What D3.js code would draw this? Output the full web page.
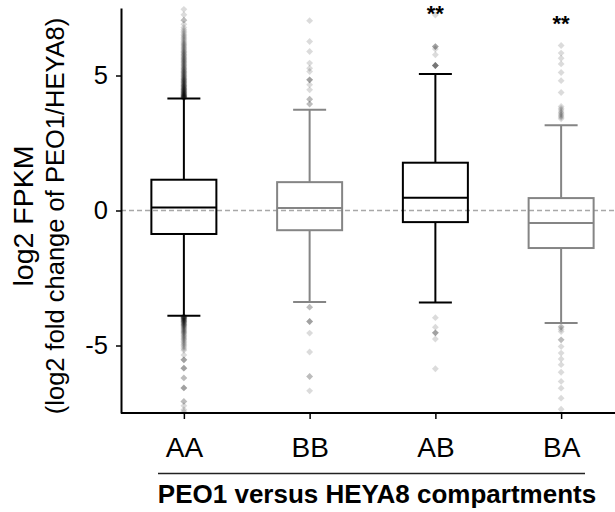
<!DOCTYPE html>
<html>
<head>
<meta charset="utf-8">
<script src="https://cdn.jsdelivr.net/npm/d3@7"></script>
<style>
  html, body { margin: 0; padding: 0; background: #fff; }
  svg { display: block; }
  text { font-family: "Liberation Sans", Arial, Helvetica, sans-serif; }
</style>
</head>
<body>
<svg id="chart" width="615" height="512"></svg>
<script>
// ---------------- DATA ----------------
const categories = ["AA", "BB", "AB", "BA"];
const q1 = [-0.87, -0.73, -0.43, -1.39];
const medians = [0.11, 0.09, 0.47, -0.46];
const q3 = [1.14, 1.05, 1.77, 0.46];
const whiskerLow = [-3.9, -3.39, -3.41, -4.17];
const whiskerHigh = [4.15, 3.73, 5.06, 3.16];

const outliersAA = [
  4.16, 4.17, 4.18, 4.19, 4.2, 4.21, 4.22, 4.23, 4.24, 4.25, 4.26, 4.28, 4.29, 4.3, 4.31, 4.33, 4.34,
  4.35, 4.37, 4.38, 4.4, 4.41, 4.43, 4.44, 4.46, 4.47, 4.49, 4.5, 4.52, 4.54, 4.55, 4.57, 4.59, 4.61,
  4.62, 4.64, 4.66, 4.68, 4.7, 4.72, 4.74, 4.76, 4.78, 4.8, 4.82, 4.84, 4.86, 4.88, 4.9, 4.93, 4.95,
  4.97, 5.0, 5.02, 5.05, 5.07, 5.1, 5.12, 5.15, 5.17, 5.2, 5.23, 5.25, 5.28, 5.31, 5.34, 5.37, 5.4,
  5.43, 5.46, 5.49, 5.52, 5.55, 5.58, 5.61, 5.64, 5.67, 5.7, 5.74, 5.77, 5.8, 5.84, 5.87, 5.9, 5.94,
  5.98, 6.02, 6.06, 6.1, 6.14, 6.18, 6.22, 6.27, 6.32, 6.37, 6.42, 6.47, 6.52, 6.58, 6.64, 6.7, 6.78,
  6.9, 7.05, 7.05, 7.25, 7.45,
  -3.92, -3.93, -3.94, -3.95, -3.96, -3.97, -3.98, -4.0, -4.01, -4.02, -4.04, -4.05, -4.07, -4.08,
  -4.1, -4.11, -4.13, -4.15, -4.17, -4.19, -4.21, -4.23, -4.25, -4.27, -4.3, -4.32, -4.35, -4.38,
  -4.41, -4.44, -4.47, -4.5, -4.53, -4.56, -4.6, -4.64, -4.68, -4.72, -4.76, -4.8, -4.85, -4.9,
  -4.95, -5.0, -5.06, -5.12, -5.18, -5.35, -5.53, -5.53, -5.53, -5.84, -5.84, -5.84, -6.2, -6.2,
  -6.57, -6.57, -6.57, -7.07, -7.07, -7.23, -7.38, -7.45
];
const outliersBB = [
  7.03, 6.26, 5.89, 5.46, 5.27, 5.15, 4.84, 4.84, 4.84, 4.66, 4.47, 4.12, 4.12, 3.94, 3.94,
  -3.58, -3.58, -4.11, -4.11, -4.11, -4.54, -5.24, -6.15, -6.15, -6.68
];
const outliersAB = [
  7.24, 6.07, 6.07, 6.07, 5.98, 5.77, 5.37, 5.37, 5.37, 5.37, 5.37,
  -3.97, -4.32, -4.53, -4.53, -4.53, -4.76, -5.86
];
const outliersBA = [
  6.11, 5.83, 5.64, 5.43, 5.11, 4.81, 4.37, 3.85, 3.78, 3.72, 3.65, 3.6, 3.55, 3.5, 3.45, 3.4,
  -4.3, -4.32, -4.4, -4.48, -4.79, -4.79, -5.04, -5.28, -5.5, -5.71, -5.99, -6.33, -6.58, -6.95, -7.36
];
const outliers = [outliersAA, outliersBB, outliersAB, outliersBA];

const yTicks = [-5, 0, 5];
const starLabels = ["", "", "**", "**"];
const starValues = [null, null, 7.5, 7.12];

const yLabel1 = "log2 FPKM";
const yLabel2 = "(log2 fold change of PEO1/HEYA8)";
const xTitle = "PEO1 versus HEYA8 compartments";

// ---------------- STYLE ----------------
const boxColor = { AA: "#000000", BB: "#858585", AB: "#000000", BA: "#858585" };

// ---------------- CHART ----------------
const svg = d3.select("#chart");
const plotLeft = 121, plotTop = 8, plotBottom = 413, plotRightExt = 624;

const x = d3.scalePoint().domain(categories).range([plotLeft, plotRightExt]).padding(0.5);
const y = d3.scaleLinear().domain([-7.5, 7.5]).range([plotBottom, plotTop]);

const boxW = 65, capW = 33;

// zero dashed line
svg.append("line")
  .attr("x1", plotLeft).attr("x2", 615)
  .attr("y1", y(0)).attr("y2", y(0))
  .attr("stroke", "#a8a8a8").attr("stroke-width", 1.3)
  .attr("stroke-dasharray", "5,3");

// outliers
const diamond = d3.symbol().type(d3.symbolDiamond2).size(30);
categories.forEach((c, i) => {
  svg.append("g").selectAll("path")
    .data(outliers[i].filter(v => v >= -7.5 && v <= 7.5))
    .join("path")
    .attr("d", diamond)
    .attr("transform", v => `translate(${x(c)},${y(v)})`)
    .attr("fill", "#000")
    .attr("fill-opacity", 0.14);
});

// boxes
const boxes = svg.append("g").selectAll("g").data(categories).join("g")
  .attr("stroke", c => boxColor[c]).attr("stroke-width", 2).attr("fill", "none");

boxes.append("line") // upper whisker
  .attr("x1", c => x(c)).attr("x2", c => x(c))
  .attr("y1", (c, i) => y(q3[i])).attr("y2", (c, i) => y(whiskerHigh[i]));
boxes.append("line") // lower whisker
  .attr("x1", c => x(c)).attr("x2", c => x(c))
  .attr("y1", (c, i) => y(q1[i])).attr("y2", (c, i) => y(whiskerLow[i]));
boxes.append("line") // upper cap
  .attr("x1", c => x(c) - capW / 2).attr("x2", c => x(c) + capW / 2)
  .attr("y1", (c, i) => y(whiskerHigh[i])).attr("y2", (c, i) => y(whiskerHigh[i]));
boxes.append("line") // lower cap
  .attr("x1", c => x(c) - capW / 2).attr("x2", c => x(c) + capW / 2)
  .attr("y1", (c, i) => y(whiskerLow[i])).attr("y2", (c, i) => y(whiskerLow[i]));
boxes.append("rect")
  .attr("x", c => x(c) - boxW / 2).attr("width", boxW)
  .attr("y", (c, i) => y(q3[i])).attr("height", (c, i) => y(q1[i]) - y(q3[i]));
boxes.append("line") // median
  .attr("x1", c => x(c) - boxW / 2).attr("x2", c => x(c) + boxW / 2)
  .attr("y1", (c, i) => y(medians[i])).attr("y2", (c, i) => y(medians[i]));

// significance stars
svg.append("g").selectAll("text")
  .data(categories.filter((c, i) => starLabels[i]))
  .join("text")
  .attr("x", c => x(c))
  .attr("y", c => y(starValues[categories.indexOf(c)]) + 12.6)
  .attr("text-anchor", "middle")
  .attr("font-size", 22)
  .attr("font-weight", "bold")
  .attr("fill", "#000")
  .text(c => starLabels[categories.indexOf(c)]);

// y axis
const yAxis = svg.append("g")
  .attr("transform", `translate(${plotLeft},0)`)
  .call(d3.axisLeft(y).tickValues(yTicks).tickSize(5).tickSizeOuter(0).tickPadding(8).tickFormat(d => String(d)));
yAxis.select(".domain").attr("stroke", "#000").attr("stroke-width", 2);
yAxis.selectAll(".tick line").attr("stroke", "#000").attr("stroke-width", 1.5);
yAxis.selectAll(".tick text").attr("font-size", 25.5).attr("fill", "#000")
  .attr("font-family", "Liberation Sans, Arial, sans-serif");

// x axis
const xAxis = svg.append("g")
  .attr("transform", `translate(0,${plotBottom})`)
  .call(d3.axisBottom(x).tickSize(6).tickSizeOuter(0).tickPadding(18));
xAxis.select(".domain").attr("stroke", "#000").attr("stroke-width", 2)
  .attr("d", `M${plotLeft},0H${plotRightExt}`);
xAxis.selectAll(".tick line").attr("stroke", "#000").attr("stroke-width", 1.5);
xAxis.selectAll(".tick text").attr("font-size", 28).attr("fill", "#000")
  .attr("font-family", "Liberation Sans, Arial, sans-serif");

// y labels
svg.append("text")
  .attr("transform", `translate(33,216) rotate(-90)`)
  .attr("text-anchor", "middle")
  .attr("font-size", 28.5).attr("fill", "#000")
  .text(yLabel1);
svg.append("text")
  .attr("transform", `translate(63.5,216) rotate(-90)`)
  .attr("text-anchor", "middle")
  .attr("font-size", 25.5).attr("fill", "#000")
  .text(yLabel2);

// group line + title
svg.append("line")
  .attr("x1", 158).attr("x2", 585).attr("y1", 473.5).attr("y2", 473.5)
  .attr("stroke", "#222").attr("stroke-width", 1.3);
svg.append("text")
  .attr("x", 377).attr("y", 503)
  .attr("text-anchor", "middle")
  .attr("font-size", 26).attr("font-weight", "bold").attr("fill", "#000")
  .text(xTitle);
</script>
</body>
</html>
